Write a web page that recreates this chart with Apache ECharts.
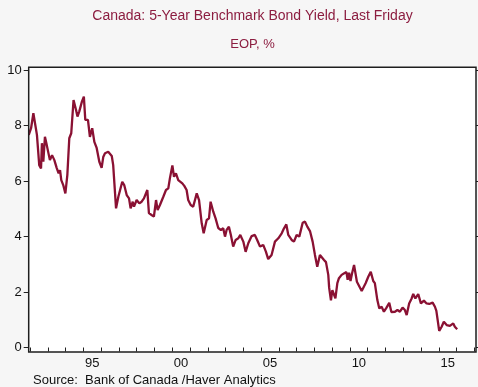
<!DOCTYPE html>
<html>
<head>
<meta charset="utf-8">
<script src="https://cdn.jsdelivr.net/npm/echarts@6/dist/echarts.min.js"></script>
<style>
html,body{margin:0;padding:0;background:#f6f6f6;}
#c{width:478px;height:387px;}
</style>
</head>
<body>
<div id="c"></div>
<script>
// Data (decimal year, yield %)
var years = [1991.93,1992.06,1992.19,1992.28,1992.39,1992.52,1992.62,1992.67,1992.75,1992.84,1992.94,1993.01,1993.12,1993.24,1993.37,1993.50,1993.61,1993.69,1993.76,1993.87,1993.99,1994.10,1994.21,1994.32,1994.45,1994.59,1994.67,1994.77,1994.92,1995.03,1995.11,1995.21,1995.26,1995.37,1995.50,1995.62,1995.75,1995.90,1996.03,1996.12,1996.22,1996.40,1996.60,1996.68,1996.84,1996.97,1997.06,1997.19,1997.30,1997.44,1997.57,1997.66,1997.78,1997.85,1998.00,1998.15,1998.28,1998.41,1998.60,1998.69,1998.84,1998.97,1999.09,1999.18,1999.31,1999.50,1999.65,1999.78,1999.87,2000.01,2000.10,2000.21,2000.34,2000.44,2000.57,2000.68,2000.81,2000.90,2001.04,2001.18,2001.38,2001.51,2001.66,2001.77,2001.94,2002.07,2002.16,2002.31,2002.44,2002.59,2002.74,2002.87,2002.97,2003.06,2003.19,2003.30,2003.43,2003.57,2003.72,2003.83,2004.00,2004.13,2004.28,2004.47,2004.65,2004.78,2004.94,2005.12,2005.27,2005.40,2005.59,2005.78,2005.97,2006.16,2006.29,2006.42,2006.53,2006.72,2006.85,2007.00,2007.15,2007.34,2007.47,2007.60,2007.75,2007.90,2008.03,2008.16,2008.31,2008.41,2008.54,2008.65,2008.78,2008.83,2008.93,2009.01,2009.10,2009.18,2009.29,2009.38,2009.53,2009.68,2009.80,2009.87,2009.95,2010.03,2010.11,2010.23,2010.39,2010.50,2010.66,2010.75,2010.88,2011.03,2011.17,2011.31,2011.40,2011.54,2011.65,2011.78,2011.91,2012.04,2012.21,2012.33,2012.53,2012.67,2012.81,2012.96,2013.09,2013.19,2013.33,2013.47,2013.56,2013.68,2013.84,2013.99,2014.16,2014.31,2014.46,2014.65,2014.78,2014.86,2015.02,2015.15,2015.28,2015.44,2015.62,2015.81,2015.90,2016.03];
var yields = [7.67,7.91,8.45,8.39,7.67,6.58,6.46,7.37,6.70,7.60,7.31,7.37,6.76,6.94,6.76,6.48,6.28,6.40,6.04,5.86,5.56,6.22,7.55,7.73,8.93,8.57,8.33,8.51,8.87,9.05,8.21,8.15,8.21,7.60,7.91,7.42,7.20,6.70,6.48,6.87,7.01,7.06,6.91,6.58,5.02,5.44,5.38,5.98,5.86,5.50,5.38,5.02,5.26,5.08,5.32,5.20,5.26,5.38,5.68,4.85,4.78,4.72,5.32,4.96,5.14,5.44,5.68,5.74,6.10,6.57,6.16,6.28,6.04,6.11,5.92,5.83,5.68,5.32,5.14,5.08,5.56,5.32,4.48,4.12,4.60,4.66,5.26,4.90,4.66,4.31,4.24,4.30,4.00,4.24,4.36,4.06,3.64,3.88,3.94,4.06,3.82,3.45,3.76,4.02,4.06,3.88,3.64,3.70,3.46,3.19,3.34,3.82,3.94,4.12,4.30,4.44,4.06,3.88,3.82,4.06,4.00,4.50,4.54,4.36,4.20,3.82,3.34,2.91,3.34,3.40,3.16,3.08,2.62,2.15,1.70,2.07,2.00,1.77,2.32,2.50,2.62,2.68,2.72,2.44,2.70,2.40,2.65,2.98,2.37,2.32,2.04,2.00,2.32,2.55,2.73,2.40,2.32,1.71,1.41,1.47,1.29,1.42,1.61,1.28,1.29,1.35,1.29,1.44,1.35,1.17,1.59,1.77,1.93,1.77,1.93,1.59,1.69,1.59,1.57,1.62,1.47,1.32,0.60,0.74,0.93,0.81,0.78,0.87,0.75,0.66];
var labelYears = [1995, 2000, 2005, 2010, 2015];
var labelTexts = ['95', '00', '05', '10', '15'];
var yTicks = [0, 2, 4, 6, 8, 10];

var titleText = 'Canada: 5-Year Benchmark Bond Yield, Last Friday';
var subText = 'EOP, %';
var sourceText = 'Source:  Bank of Canada /Haver Analytics';

var seriesData = years.map(function (y, i) { return [y, yields[i]]; });

var chart = echarts.init(document.getElementById('c'), null, {renderer: 'canvas'});
var FONT = 'Liberation Sans, Arial, sans-serif';
var axisCol = '#222';
var titleCol = '#8c1d40';

chart.setOption({
  animation: false,
  backgroundColor: '#f6f6f6',
  grid: {left: 30, right: 3.6, top: 70.3, bottom: 39.5, containLabel: false},
  graphic: [
    {type: 'rect', z: -10, shape: {x: 28.7, y: 67.3, width: 447.3, height: 284.7},
     style: {fill: '#ffffff', stroke: null}},
    {type: 'rect', z: 100, shape: {x: 28.7, y: 67.3, width: 447.3, height: 284.7},
     style: {fill: null, stroke: '#1e1e1e', lineWidth: 1.5}},
    {type: 'text', x: 252.5, y: 16.5, z: 100,
     style: {text: titleText, fill: titleCol, font: '14px ' + FONT, textAlign: 'center', textVerticalAlign: 'middle'}},
    {type: 'text', x: 252.5, y: 44.5, z: 100,
     style: {text: subText, fill: titleCol, font: '13px ' + FONT, textAlign: 'center', textVerticalAlign: 'middle'}},
    {type: 'text', x: 33, y: 380, z: 100,
     style: {text: sourceText, fill: '#111', font: '13px ' + FONT, textAlign: 'left', textVerticalAlign: 'middle'}}
  ],
  xAxis: [{
    type: 'value', min: 1992, max: 2017, interval: 1, offset: 4.5,
    axisLine: {show: false},
    axisTick: {show: true, length: 4, lineStyle: {color: axisCol, width: 1}},
    axisLabel: {show: false},
    splitLine: {show: false}
  }, {
    type: 'value', min: 1992, max: 2017, interval: 0.5, offset: 4.5, position: 'bottom',
    axisLine: {show: false},
    axisTick: {show: false},
    splitLine: {show: false},
    axisLabel: {
      show: true, margin: 5, color: '#111', fontSize: 13, fontFamily: FONT,
      formatter: function (v) {
        for (var i = 0; i < labelYears.length; i++) {
          if (Math.abs(v - (labelYears[i] + 0.5)) < 1e-6) return labelTexts[i];
        }
        return '';
      }
    }
  }],
  yAxis: [{
    type: 'value', position: 'left', min: yTicks[0], max: yTicks[yTicks.length - 1], interval: 2, offset: 1.3,
    axisLine: {show: false},
    axisTick: {show: true, length: 5, lineStyle: {color: axisCol, width: 1}},
    axisLabel: {margin: 7, color: '#111', fontSize: 13, fontFamily: FONT},
    splitLine: {show: false}
  }, {
    type: 'value', position: 'right', min: yTicks[0], max: yTicks[yTicks.length - 1], interval: 2, offset: 1.6,
    axisLine: {show: false},
    axisTick: {show: true, length: 3, lineStyle: {color: axisCol, width: 1}},
    axisLabel: {show: false},
    splitLine: {show: false}
  }],
  series: [{
    type: 'line', xAxisIndex: 0, yAxisIndex: 0,
    data: seriesData, showSymbol: false, symbol: 'none', clip: false,
    lineStyle: {color: '#8a1133', width: 2.3},
    z: 5
  }]
});
</script>
</body>
</html>
